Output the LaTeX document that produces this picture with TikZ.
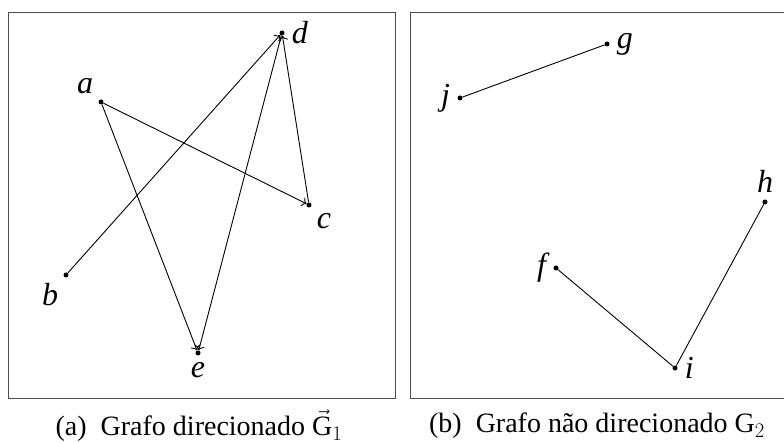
\documentclass[tikz,border=0pt]{standalone}
\usepackage{fontspec}
\setmainfont{Liberation Serif}
\usepackage{amsmath}
\usetikzlibrary{arrows.meta}

\begin{document}
\begin{tikzpicture}[x=1pt,y=-1pt,
		vertex/.style={circle, fill=black, inner sep=0pt, minimum size=5pt},
		lbl/.style={font=\fontsize{32}{36}\selectfont\itshape},
		arc/.style={-{To[scale=1.3]}, line width=0.9pt},
		edge/.style={line width=0.9pt},
		frame/.style={draw=black!70, line width=1pt},
		every label/.style={lbl, inner sep=3pt},
		label distance=4pt]
		\useasboundingbox (0,0) rectangle (784,443);
		\clip (0,0) rectangle (784,443);

		% grafo direcionado
		\begin{scope}
			\draw[frame] (8,13) rectangle (395,398);
			\node[vertex, label=above left:a]  (a) at (101,102) {};
			\node[vertex, label=below left:b]  (b) at (66,275) {};
			\node[vertex, label=below right:c] (c) at (309,205) {};
			\node[vertex, label=right:d]       (d) at (282,33) {};
			\node[vertex, label=below:e]       (e) at (198,353) {};
			\draw[arc] (a) -- (c);
			\draw[arc] (a) -- (e);
			\draw[arc] (b) -- (d);
			\draw[arc] (c) -- (d);
			\draw[arc] (d) -- (e);
			\node[font=\fontsize{28}{32}\selectfont] (capa) at (199,426) {(a)\enspace Grafo direcionado $\vec{\mathrm{G}}_1$};
		\end{scope}

		% grafo nao direcionado
		\begin{scope}
			\draw[frame] (410,13) rectangle (795,398);
			\node[vertex, label=right:g] (g) at (607,44) {};
			\node[vertex, label=left:j]  (j) at (460,98) {};
			\node[vertex, label=above:h] (h) at (765,202) {};
			\node[vertex, label=left:f]  (f) at (556,268) {};
			\node[vertex, label=right:i] (i) at (675,368) {};
			\draw[edge] (j) -- (g);
			\draw[edge] (f) -- (i) -- (h);
			\node[font=\fontsize{28}{32}\selectfont] (capb) at (597,426) {(b)\enspace Grafo não direcionado $\mathrm{G}_2$};
		\end{scope}
	\end{tikzpicture}
\end{document}
